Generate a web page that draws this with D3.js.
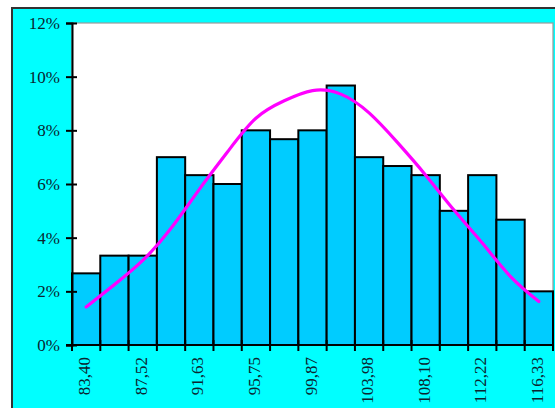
<!DOCTYPE html>
<html>
<head>
<meta charset="utf-8">
<script src="https://cdn.jsdelivr.net/npm/d3@7"></script>
<style>
  html, body { margin: 0; padding: 0; background: #ffffff; }
  svg { display: block; }
</style>
</head>
<body>
<svg id="chart" width="555" height="408"></svg>
<script>
// Bin midpoints of the histogram (every other one is labelled)
const binMids = [83.40, 84.46, 85.52, 86.57, 87.63, 88.69, 89.75, 90.81, 91.87,
                 92.92, 93.98, 95.04, 96.10, 97.16, 98.22, 99.27, 100.33];
const binLabels = ["83,40", "", "87,52", "", "91,63", "", "95,75", "", "99,87",
                   "", "103,98", "", "108,10", "", "112,22", "", "116,33"];
// Relative frequency of each bin, percent
const freqPct = [2.67, 3.33, 3.33, 7.00, 6.33, 6.00, 8.00, 7.67, 8.00,
                 9.67, 7.00, 6.67, 6.33, 5.00, 6.33, 4.67, 2.00];
// Fitted normal density at each bin midpoint, percent
const normalPct = [1.42, 2.25, 3.15, 4.35, 5.80, 7.20, 8.45, 9.10, 9.48,
                   9.35, 8.65, 7.55, 6.33, 5.03, 3.80, 2.55, 1.62];
const yTicks = [0, 2, 4, 6, 8, 10, 12];

const svg = d3.select("#chart");
const plot = { left: 72, right: 553, top: 23, bottom: 345 };
const serif = "'Liberation Serif', 'Times New Roman', serif";

// outer frame
svg.append("rect")
  .attr("x", 12).attr("y", 8).attr("width", 560).attr("height", 420)
  .attr("fill", "#00ffff").attr("stroke", "#333").attr("stroke-width", 2);

// plot area
svg.append("rect")
  .attr("x", plot.left).attr("y", plot.top)
  .attr("width", plot.right - plot.left).attr("height", plot.bottom - plot.top)
  .attr("fill", "#ffffff").attr("stroke", "#9a9a9a").attr("stroke-width", 1.2);

const idx = d3.range(freqPct.length);
const x = d3.scaleBand().domain(idx).range([plot.left, plot.right]).padding(0);
const y = d3.scaleLinear().domain([0, 12]).range([plot.bottom, plot.top]);

// bars
svg.append("g").selectAll("rect").data(idx).join("rect")
  .attr("x", i => x(i))
  .attr("y", i => y(freqPct[i]))
  .attr("width", x.bandwidth())
  .attr("height", i => y(0) - y(freqPct[i]))
  .attr("fill", "#00ccff")
  .attr("stroke", "#000")
  .attr("stroke-width", 2);

// normal curve
const line = d3.line()
  .x(i => x(i) + x.bandwidth() / 2)
  .y(i => y(normalPct[i]))
  .curve(d3.curveNatural);
svg.append("path")
  .datum(idx)
  .attr("d", line)
  .attr("fill", "none")
  .attr("stroke", "#ff00ff")
  .attr("stroke-width", 3.2)
  .attr("stroke-linecap", "round");

// y axis
const yAxis = d3.axisLeft(y).tickValues(yTicks).tickFormat(d => d + "%")
  .tickSize(6).tickPadding(7);
const gy = svg.append("g").attr("transform", `translate(${plot.left},0)`).call(yAxis);
gy.select(".domain").attr("stroke", "#000").attr("stroke-width", 2);
gy.selectAll(".tick line").attr("stroke", "#000").attr("stroke-width", 2)
  .attr("x1", 5).attr("x2", -6);
gy.selectAll(".tick text")
  .attr("font-family", serif)
  .attr("font-size", 17).attr("fill", "#0b2530").attr("x", -12);

// x axis: tick at every bin boundary, labels at the bin midpoints
const edges = d3.range(freqPct.length + 1);
const gx = svg.append("g");
gx.append("line")
  .attr("x1", plot.left - 6).attr("x2", plot.right)
  .attr("y1", plot.bottom).attr("y2", plot.bottom)
  .attr("stroke", "#000").attr("stroke-width", 2);
gx.selectAll("line.edge").data(edges).join("line")
  .attr("class", "edge")
  .attr("x1", i => i < freqPct.length ? x(i) : x(i - 1) + x.bandwidth())
  .attr("x2", i => i < freqPct.length ? x(i) : x(i - 1) + x.bandwidth())
  .attr("y1", plot.bottom - 5).attr("y2", plot.bottom + 6)
  .attr("stroke", "#000").attr("stroke-width", 2);

gx.selectAll("text").data(idx.filter(i => binLabels[i] !== "")).join("text")
  .attr("transform", i => `translate(${x(i) + x.bandwidth() / 2 + 4},${plot.bottom + 12}) rotate(-90)`)
  .attr("text-anchor", "end")
  .attr("font-family", serif)
  .attr("font-size", 17)
  .attr("fill", "#0b2530")
  .text(i => binLabels[i]);
</script>
</body>
</html>
